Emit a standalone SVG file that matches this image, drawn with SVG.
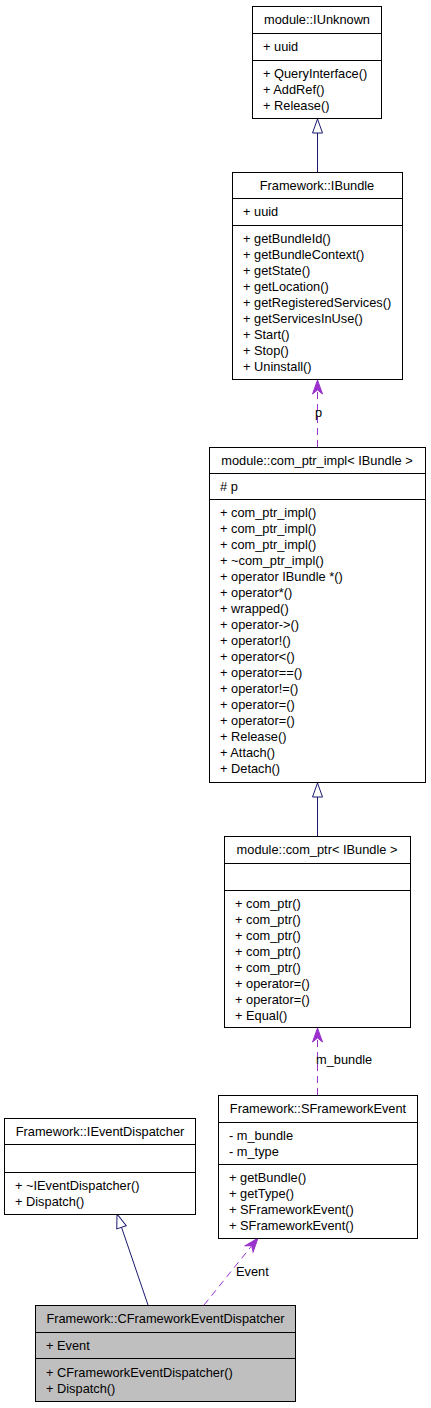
<svg xmlns="http://www.w3.org/2000/svg" width="431" height="1408" viewBox="0 0 431 1408">
<style>
text{font-family:"Liberation Sans",Arial,sans-serif;font-size:12.8px;fill:#000}
.t{text-anchor:middle}
.box{fill:#fff;stroke:#000;stroke-width:1}
.cur{fill:#bfbfbf;stroke:#000;stroke-width:1}
.sep{stroke:#000;stroke-width:1}
.inh{fill:none;stroke:#191970;stroke-width:1}
.use{fill:none;stroke:#9a32cd;stroke-width:1;stroke-dasharray:7,5}
</style>
<defs>
<marker id="tri" markerUnits="userSpaceOnUse" markerWidth="16" markerHeight="12" viewBox="-1 -1 16 12" refX="14" refY="5" orient="auto" overflow="visible">
<path d="M0,0 L14,5 L0,10 Z" fill="#fff" stroke="#191970" stroke-width="1"/>
</marker>
<marker id="vee" markerUnits="userSpaceOnUse" markerWidth="16" markerHeight="12" viewBox="-1 -1 16 12" refX="14" refY="5" orient="auto" overflow="visible">
<path d="M0,0 L14,5 L0,10 L4,5 Z" fill="#9a32cd" stroke="#9a32cd" stroke-width="1"/>
</marker>
</defs>
<g id="connectors">
<path class="inh" d="M317.5,172 L317.5,119" marker-end="url(#tri)"/>
<path class="use" d="M317.5,447 L317.5,380" marker-end="url(#vee)"/>
<text x="315" y="417">p</text>
<path class="inh" d="M317.5,836 L317.5,783" marker-end="url(#tri)"/>
<path class="use" d="M317.5,1095 L317.5,1028" marker-end="url(#vee)"/>
<text x="316" y="1064">m_bundle</text>
<path class="inh" d="M148,1305 L117,1214" marker-end="url(#tri)"/>
<path class="use" d="M204,1305 L258,1238" marker-end="url(#vee)"/>
<text x="236" y="1276">Event</text>
</g>
<g id="IUnknown">
<rect class="box" x="252.5" y="6.5" width="129" height="112"/>
<line class="sep" x1="252.5" y1="33.5" x2="381.5" y2="33.5"/>
<line class="sep" x1="252.5" y1="60.5" x2="381.5" y2="60.5"/>
<text class="t" x="317" y="24">module::IUnknown</text>
<text x="263" y="51">+ uuid</text>
<text x="263" y="78">+ QueryInterface()</text>
<text x="263" y="94">+ AddRef()</text>
<text x="263" y="110">+ Release()</text>
</g>
<g id="IBundle">
<rect class="box" x="232.5" y="172.5" width="170" height="207"/>
<line class="sep" x1="232.5" y1="198.5" x2="402.5" y2="198.5"/>
<line class="sep" x1="232.5" y1="225.5" x2="402.5" y2="225.5"/>
<text class="t" x="317" y="190">Framework::IBundle</text>
<text x="243" y="216">+ uuid</text>
<text x="243" y="243">+ getBundleId()</text>
<text x="243" y="259">+ getBundleContext()</text>
<text x="243" y="275">+ getState()</text>
<text x="243" y="291">+ getLocation()</text>
<text x="243" y="307">+ getRegisteredServices()</text>
<text x="243" y="323">+ getServicesInUse()</text>
<text x="243" y="339">+ Start()</text>
<text x="243" y="355">+ Stop()</text>
<text x="243" y="371">+ Uninstall()</text>
</g>
<g id="com_ptr_impl">
<rect class="box" x="209.5" y="447.5" width="216" height="335"/>
<line class="sep" x1="209.5" y1="473.5" x2="425.5" y2="473.5"/>
<line class="sep" x1="209.5" y1="499.5" x2="425.5" y2="499.5"/>
<text class="t" x="317" y="465">module::com_ptr_impl&lt; IBundle &gt;</text>
<text x="220" y="491"># p</text>
<text x="220" y="517">+ com_ptr_impl()</text>
<text x="220" y="533">+ com_ptr_impl()</text>
<text x="220" y="549">+ com_ptr_impl()</text>
<text x="220" y="565">+ ~com_ptr_impl()</text>
<text x="220" y="581">+ operator IBundle *()</text>
<text x="220" y="597">+ operator*()</text>
<text x="220" y="613">+ wrapped()</text>
<text x="220" y="629">+ operator-&gt;()</text>
<text x="220" y="645">+ operator!()</text>
<text x="220" y="661">+ operator&lt;()</text>
<text x="220" y="677">+ operator==()</text>
<text x="220" y="693">+ operator!=()</text>
<text x="220" y="709">+ operator=()</text>
<text x="220" y="725">+ operator=()</text>
<text x="220" y="741">+ Release()</text>
<text x="220" y="757">+ Attach()</text>
<text x="220" y="773">+ Detach()</text>
</g>
<g id="com_ptr">
<rect class="box" x="224.5" y="836.5" width="186" height="191"/>
<line class="sep" x1="224.5" y1="863.5" x2="410.5" y2="863.5"/>
<line class="sep" x1="224.5" y1="890.5" x2="410.5" y2="890.5"/>
<text class="t" x="317" y="854">module::com_ptr&lt; IBundle &gt;</text>
<text x="235" y="908">+ com_ptr()</text>
<text x="235" y="924">+ com_ptr()</text>
<text x="235" y="940">+ com_ptr()</text>
<text x="235" y="956">+ com_ptr()</text>
<text x="235" y="972">+ com_ptr()</text>
<text x="235" y="988">+ operator=()</text>
<text x="235" y="1004">+ operator=()</text>
<text x="235" y="1020">+ Equal()</text>
</g>
<g id="SFrameworkEvent">
<rect class="box" x="218.5" y="1095.5" width="199" height="143"/>
<line class="sep" x1="218.5" y1="1122.5" x2="417.5" y2="1122.5"/>
<line class="sep" x1="218.5" y1="1164.5" x2="417.5" y2="1164.5"/>
<text class="t" x="318" y="1113">Framework::SFrameworkEvent</text>
<text x="229" y="1140">- m_bundle</text>
<text x="229" y="1156">- m_type</text>
<text x="229" y="1182">+ getBundle()</text>
<text x="229" y="1198">+ getType()</text>
<text x="229" y="1214">+ SFrameworkEvent()</text>
<text x="229" y="1230">+ SFrameworkEvent()</text>
</g>
<g id="IEventDispatcher">
<rect class="box" x="4.5" y="1118.5" width="191" height="96"/>
<line class="sep" x1="4.5" y1="1144.5" x2="195.5" y2="1144.5"/>
<line class="sep" x1="4.5" y1="1172.5" x2="195.5" y2="1172.5"/>
<text class="t" x="100" y="1136">Framework::IEventDispatcher</text>
<text x="15" y="1190">+ ~IEventDispatcher()</text>
<text x="15" y="1206">+ Dispatch()</text>
</g>
<g id="CFrameworkEventDispatcher">
<rect class="cur" x="35.5" y="1305.5" width="260" height="96"/>
<line class="sep" x1="35.5" y1="1332.5" x2="295.5" y2="1332.5"/>
<line class="sep" x1="35.5" y1="1358.5" x2="295.5" y2="1358.5"/>
<text class="t" x="165.5" y="1323">Framework::CFrameworkEventDispatcher</text>
<text x="46" y="1350">+ Event</text>
<text x="46" y="1377">+ CFrameworkEventDispatcher()</text>
<text x="46" y="1393">+ Dispatch()</text>
</g>
</svg>
